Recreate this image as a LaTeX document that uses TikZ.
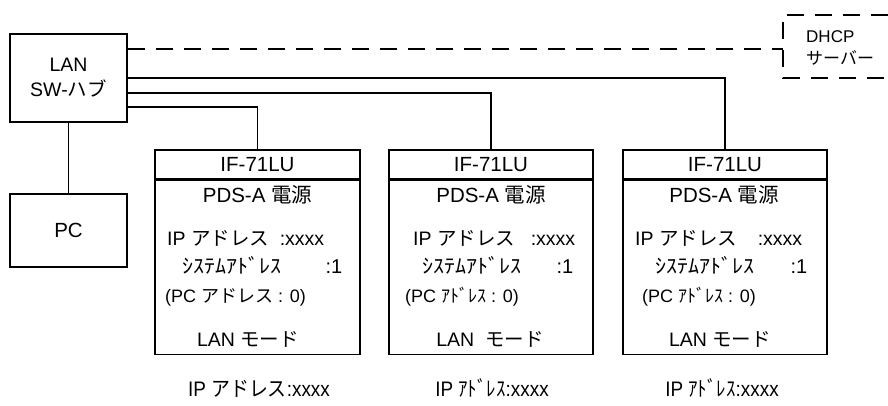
\documentclass[tikz,border=0pt]{standalone}
\usepackage{graphicx}
\usepackage{fontspec}
\setmainfont{Liberation Sans}
\newfontfamily\jp{Noto Sans CJK JP}
\newfontfamily\jph[FakeStretch=1.1]{Noto Sans CJK JP}

\tikzset{
  wire/.style={line width=1.2pt},
  dwire/.style={line width=2.3pt, dash pattern=on 17pt off 11pt},
  frame/.style={draw, line width=1.2pt, inner sep=0pt},
  lbl/.style={inner sep=0pt, anchor=base west, font=\fontsize{19.5}{23}\selectfont},
  big/.style={font=\fontsize{20.5}{24}\selectfont},
  mid/.style={font=\fontsize{18}{22}\selectfont},
  sys/.style={font=\fontsize{20}{22}\selectfont},
  under/.style={inner sep=0pt, anchor=base, font=\fontsize{21}{25}\selectfont},
}

\begin{document}
\begin{tikzpicture}[x=1pt,y=-1pt]
\useasboundingbox (0,0) rectangle (888,405);

% LAN hub and PC
\node[frame, minimum width=117pt, minimum height=88pt, align=center,
      font=\fontsize{19.5}{25}\selectfont] (lan) at (68.5,78) {LAN\\SW-{\jp ハブ}};
\node[frame, big, minimum width=117pt, minimum height=73pt] (pc) at (68.5,230.5) {PC};

% device boxes
\node[frame, big, minimum width=205pt, minimum height=29pt] (h1) at (257.5,164.5) {IF-71LU};
\node[frame, minimum width=205pt, minimum height=174pt, anchor=north] (b1) at (h1.south) {};
\node[frame, big, minimum width=204pt, minimum height=29pt] (h2) at (491,164.5) {IF-71LU};
\node[frame, minimum width=204pt, minimum height=174pt, anchor=north] (b2) at (h2.south) {};
\node[frame, big, minimum width=204pt, minimum height=29pt] (h3) at (725,164.5) {IF-71LU};
\node[frame, minimum width=204pt, minimum height=174pt, anchor=north] (b3) at (h3.south) {};

% connectors
\draw[wire] (lan.east) -| (h3.north);
\draw[wire] ([yshift=-15pt]lan.east) -| (h2.north);
\draw[wire] ([yshift=-29pt]lan.east) -| (h1.north);
\draw[wire] (lan.south) -- (pc.north);

% DHCP server (dashed)
\coordinate (dw) at (783,49);
\draw[dwire] ([yshift=29pt]lan.east) -- (dw);
\draw[dwire] (888,15) -- (783,15) -- (783,78) -- (888,78);
\node[inner sep=0pt, anchor=west, align=left, font=\fontsize{17}{22}\selectfont] (dhcp) at (806,48)
  {DHCP\\{\jp サーバー}};

% box 1 texts
\node[lbl, big, anchor=base] (p1) at (257.5,202) {PDS-A {\jp 電源}};
\node[lbl] (ip1) at (167,245) {\makebox[157pt][l]{IP {\jp アドレス}\hfill:xxxx}};
\node[lbl, sys] (sy1) at (182,273) {\makebox[160pt][l]{{\jph ｼｽﾃﾑｱﾄﾞﾚｽ}\hfill:1}};
\node[lbl, mid] (pa1) at (165,302) {(PC {\jp アドレス} : 0)};
\node[lbl, anchor=base] (m1) at (248,346) {LAN {\jp モード}};

% box 2 texts
\node[lbl, big, anchor=base] (p2) at (491,202) {PDS-A {\jp 電源}};
\node[lbl] (ip2) at (413,245) {\makebox[162pt][l]{IP {\jp アドレス}\hfill:xxxx}};
\node[lbl, sys] (sy2) at (422,273) {\makebox[151pt][l]{{\jph ｼｽﾃﾑｱﾄﾞﾚｽ}\hfill:1}};
\node[lbl, mid] (pa2) at (405,302) {(PC {\jp ｱﾄﾞﾚｽ} : 0)};
\node[lbl, anchor=base] (m2) at (490,346) {LAN\ \ {\jp モード}};

% box 3 texts
\node[lbl, big, anchor=base] (p3) at (724,202) {PDS-A {\jp 電源}};
\node[lbl] (ip3) at (635,245) {\makebox[167pt][l]{IP {\jp アドレス}\hfill:xxxx}};
\node[lbl, sys] (sy3) at (655,273) {\makebox[152pt][l]{{\jph ｼｽﾃﾑｱﾄﾞﾚｽ}\hfill:1}};
\node[lbl, mid] (pa3) at (642,302) {(PC {\jp ｱﾄﾞﾚｽ} : 0)};
\node[lbl, anchor=base] (m3) at (720,346) {LAN {\jp モード}};

% labels under boxes
\node[under] (q1) at (259,396) {\scalebox{0.9}[1]{IP {\jp アドレス}:xxxx}};
\node[under] (q2) at (492,396) {\scalebox{0.9}[1]{IP {\jp ｱﾄﾞﾚｽ}:xxxx}};
\node[under] (q3) at (722,396) {\scalebox{0.9}[1]{IP {\jp ｱﾄﾞﾚｽ}:xxxx}};
\end{tikzpicture}
\end{document}
